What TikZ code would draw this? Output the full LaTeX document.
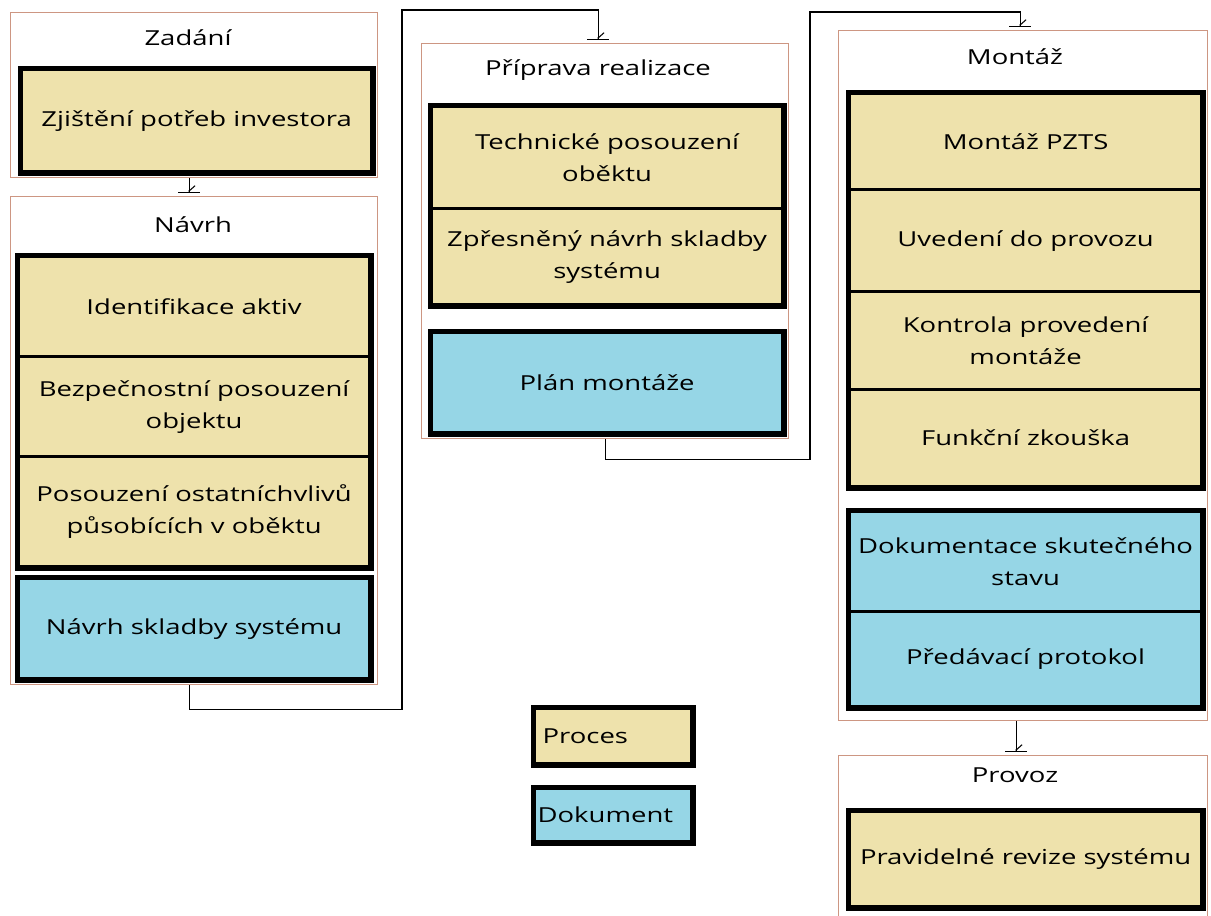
\documentclass[tikz,border=0pt]{standalone}
\usepackage{fontspec}
\setmainfont[FakeStretch=1.33]{Open Sans}
\usetikzlibrary{arrows.meta}

\newlength\pxu
\setlength\pxu{0.75pt}

\definecolor{proctan}{RGB}{238,226,172}
\definecolor{docblue}{RGB}{150,214,230}
\definecolor{frameline}{RGB}{205,150,130}

\tikzset{
  stage/.style={draw=frameline, line width=0.8pt, anchor=north west, inner sep=0pt, minimum width=367\pxu},
  stagetitle/.style={font=\fontsize{15.5}{18}\selectfont},
  proc/.style={draw=black, line width=2.4pt, fill=proctan, anchor=north west, inner sep=0pt,
    align=center, font=\fontsize{15.5}{24}\selectfont, minimum width=351\pxu},
  docu/.style={proc, fill=docblue},
  groupframe/.style={draw=black, line width=3.6pt},
  flow/.style={line width=0.8pt, -{Straight Barb[left,length=4pt,width=9pt]Bar[width=16pt,sep=2pt]}},
}

\begin{document}
\begin{tikzpicture}[x=0.75pt,y=-0.75pt]
    \useasboundingbox (0,0) rectangle (1211,916);

    % Zadani
    \node[stage, minimum height=165\pxu] (zadani) at (10,12) {};
    \node[stagetitle] (zadanititle) at (188,38) {Zadání};
    \node[proc, minimum width=350\pxu, minimum height=102\pxu] (potreby) at (20,68) {Zjištění potřeb investora};
    \draw[groupframe] (potreby.north west) rectangle (potreby.south east);

    % Navrh
    \node[stage, minimum height=488\pxu] (navrh) at (10,196) {};
    \node[stagetitle] (navrhtitle) at (193,225) {Návrh};
    \node[proc, minimum height=100\pxu] (aktiva) at (17,255) {Identifikace aktiv};
    \node[proc, minimum height=100\pxu] (bezpecnost) at (17,355) {Bezpečnostní posouzení\\objektu};
    \node[proc, minimum height=110\pxu] (vlivy) at (17,455) {Posouzení ostatníchvlivů\\působících v oběktu};
    \draw[groupframe] (aktiva.north west) rectangle (vlivy.south east);
    \node[docu, minimum height=100\pxu] (navrhdoc) at (17,577) {Návrh skladby systému};
    \draw[groupframe] (navrhdoc.north west) rectangle (navrhdoc.south east);

    % Priprava realizace
    \node[stage, minimum height=395\pxu] (priprava) at (421,43) {};
    \node[stagetitle] (pripravatitle) at (598,70) {Příprava realizace};
    \node[proc, minimum height=102\pxu] (posouzeni) at (430,105) {Technické posouzení\\oběktu};
    \node[proc, minimum height=96\pxu] (zpresneni) at (430,207) {Zpřesněný návrh skladby\\systému};
    \draw[groupframe] (posouzeni.north west) rectangle (zpresneni.south east);
    \node[docu, minimum height=100\pxu] (plan) at (430,331) {Plán montáže};
    \draw[groupframe] (plan.north west) rectangle (plan.south east);

    % Montaz
    \node[stage, minimum width=369\pxu, minimum height=690\pxu] (montaz) at (838,30) {};
    \node[stagetitle] (montaztitle) at (1015,57) {Montáž};
    \node[proc, minimum width=352\pxu, minimum height=96\pxu] (pzts) at (848,92) {Montáž PZTS};
    \node[proc, minimum width=352\pxu, minimum height=102\pxu] (uvedeni) at (848,188) {Uvedení do provozu};
    \node[proc, minimum width=352\pxu, minimum height=98\pxu] (kontrola) at (848,290) {Kontrola provedení\\montáže};
    \node[proc, minimum width=352\pxu, minimum height=97\pxu] (zkouska) at (848,388) {Funkční zkouška};
    \draw[groupframe] (pzts.north west) rectangle (zkouska.south east);
    \node[docu, minimum width=352\pxu, minimum height=100\pxu] (dokumentace) at (848,510) {Dokumentace skutečného\\stavu};
    \node[docu, minimum width=352\pxu, minimum height=95\pxu] (protokol) at (848,610) {Předávací protokol};
    \draw[groupframe] (dokumentace.north west) rectangle (protokol.south east);

    % Provoz
    \node[stage, minimum width=369\pxu, minimum height=162\pxu] (provoz) at (838,755) {};
    \node[stagetitle] (provoztitle) at (1015,775) {Provoz};
    \node[proc, minimum width=352\pxu, minimum height=95\pxu] (revize) at (848,810) {Pravidelné revize systému};
    \draw[groupframe] (revize.north west) rectangle (revize.south east);

    % legenda
    \node[proc, text width=141\pxu, align=left, inner xsep=8\pxu, minimum width=157\pxu, minimum height=55\pxu] (legproc) at (533,707) {Proces};
    \draw[groupframe] (legproc.north west) rectangle (legproc.south east);
    \node[docu, text width=151\pxu, align=left, inner xsep=3\pxu, minimum width=157\pxu, minimum height=53\pxu] (legdoc) at (533,787) {Dokument};
    \draw[groupframe] (legdoc.north west) rectangle (legdoc.south east);

    % propojeni
    \coordinate (ohyb1) at (402,10);
    \coordinate (ohyb2) at (810,12);
    \draw[flow] ([xshift=-5\pxu]zadani.south) -- ([xshift=-5\pxu]navrh.north);
    \draw[flow] ([xshift=-5\pxu]navrh.south) -- ++(0,24) -| (ohyb1) -| ([xshift=-7\pxu]priprava.north);
    \draw[flow] (priprava.south) -- ++(0,20) -| (ohyb2) -| ([xshift=-3\pxu]montaz.north);
    \draw[flow] ([xshift=-7\pxu]montaz.south) -- ([xshift=-7\pxu]provoz.north);
\end{tikzpicture}
\end{document}
